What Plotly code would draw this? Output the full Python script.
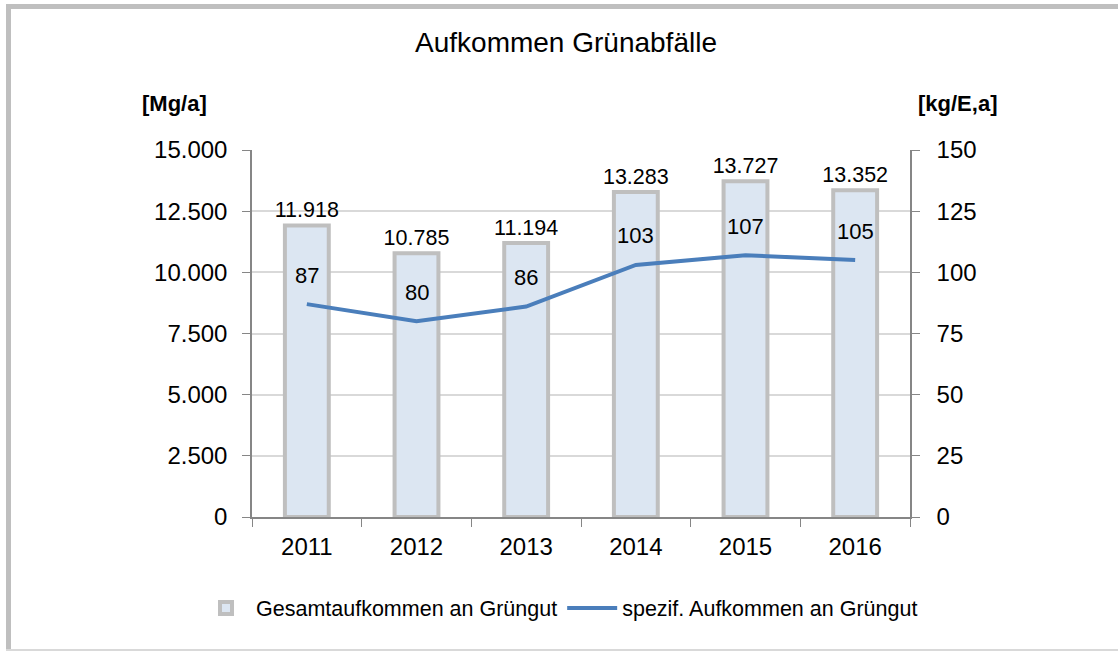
import plotly.graph_objects as go

years = ["2011", "2012", "2013", "2014", "2015", "2016"]
total_mg = [11918, 10785, 11194, 13283, 13727, 13352]
spec_kg = [87, 80, 86, 103, 107, 105]

bar_name = "Gesamtaufkommen an Grüngut"
line_name = "spezif. Aufkommen an Grüngut"
title_text = "Aufkommen Grünabfälle"
left_unit = "[Mg/a]"
right_unit = "[kg/E,a]"

FONT = "Liberation Sans, Arial, sans-serif"

W, H = 1118, 652
L, R, T, B = 252, 208, 150, 135
PW, PH = W - L - R, H - T - B


def px_x(x):
    return (x - L) / PW


def px_y(y):
    return (H - B - y) / PH


fig = go.Figure()
fig.add_trace(go.Bar(
    x=years, y=total_mg, name=bar_name,
    marker=dict(color="#dce6f2", line=dict(color="#bfbfbf", width=4)),
    width=0.4,
    text=total_mg, texttemplate="%{y:,d}", textposition="outside",
    constraintext="none",
    textfont=dict(size=21.5, color="#000000"),
    cliponaxis=False,
))
fig.add_trace(go.Scatter(
    x=years, y=spec_kg, name=line_name, yaxis="y2",
    mode="lines", line=dict(color="#4a7ebb", width=4),
))

for i, v in enumerate(spec_kg):
    fig.add_annotation(x=i, y=v, xref="x", yref="y2", text=str(v), showarrow=False,
                       yshift=29, font=dict(size=22, color="#000000", family=FONT))

fig.add_annotation(xref="paper", yref="paper", x=px_x(174), y=px_y(103),
                   xanchor="center", yanchor="middle",
                   text="<b>" + left_unit + "</b>", showarrow=False,
                   font=dict(size=22, color="#000000", family=FONT))
fig.add_annotation(xref="paper", yref="paper", x=px_x(957), y=px_y(103),
                   xanchor="center", yanchor="middle",
                   text="<b>" + right_unit + "</b>", showarrow=False,
                   font=dict(size=22, color="#000000", family=FONT))

# outer frame
fig.add_shape(type="line", xref="paper", yref="paper",
              x0=px_x(6), x1=px_x(1118), y0=px_y(6.5), y1=px_y(6.5),
              line=dict(color="#bfbfbf", width=5))
fig.add_shape(type="line", xref="paper", yref="paper",
              x0=px_x(8.5), x1=px_x(8.5), y0=px_y(4), y1=px_y(650),
              line=dict(color="#bfbfbf", width=5))
fig.add_shape(type="line", xref="paper", yref="paper",
              x0=px_x(6), x1=px_x(1118), y0=px_y(650), y1=px_y(650),
              line=dict(color="#d9d9d9", width=2))

fig.update_layout(
    width=W, height=H,
    margin=dict(l=L, r=R, t=T, b=B, autoexpand=False),
    paper_bgcolor="#ffffff", plot_bgcolor="#ffffff",
    separators=",.",
    font=dict(family=FONT, size=24, color="#000000"),
    title=dict(text=title_text, x=566 / W, xanchor="center", xref="container",
               y=1 - 42 / H, yanchor="middle", font=dict(size=28, color="#000000")),
    showlegend=True,
    legend=dict(orientation="h", xref="paper", x=px_x(196), xanchor="left",
                yref="paper", y=px_y(608), yanchor="middle",
                font=dict(size=21.5), itemwidth=50, traceorder="normal"),
    bargap=0.6,
    xaxis=dict(type="category", automargin=False, range=[-0.5, 5.5],
               showline=True, linecolor="#868686", linewidth=1.5,
               ticks="outside", tickson="boundaries", ticklen=8, tickcolor="#868686",
               ticklabelstandoff=7,
               showgrid=False, tickfont=dict(size=24)),
    yaxis=dict(range=[0, 15000], dtick=2500, tickformat=",d", automargin=False,
               showline=True, linecolor="#868686", linewidth=1.5,
               ticks="outside", ticklen=8, tickcolor="#868686",
               ticklabelstandoff=10,
               showgrid=True, gridcolor="#d9d9d9", gridwidth=1.5,
               zeroline=False, tickfont=dict(size=24)),
    yaxis2=dict(range=[0, 150], dtick=25, overlaying="y", side="right", automargin=False,
                showline=True, linecolor="#868686", linewidth=1.5,
                ticks="outside", ticklen=8, tickcolor="#868686",
                ticklabelstandoff=12,
                showgrid=False, zeroline=False, tickfont=dict(size=24)),
)

fig.write_html("out.html", config={"displayModeBar": False},
               post_script="document.body.style.margin='0px';")
